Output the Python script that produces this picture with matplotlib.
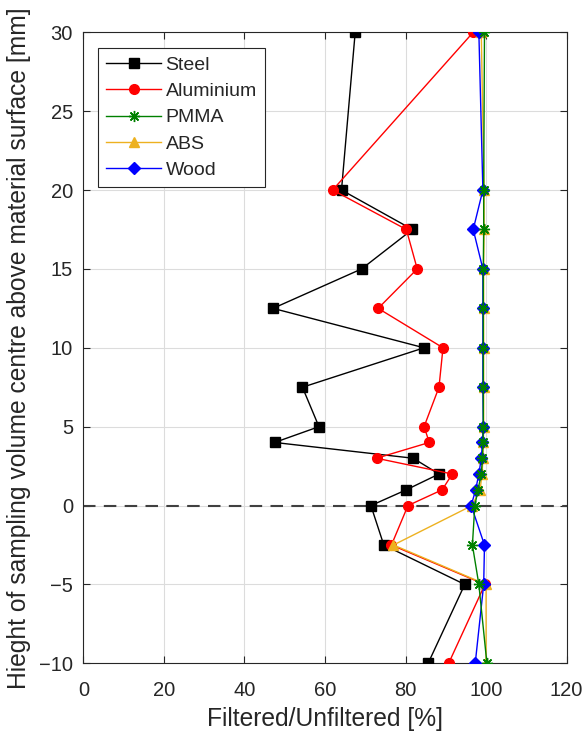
import numpy as np
import matplotlib.pyplot as plt

plt.rcParams['font.family'] = ['Liberation Sans', 'DejaVu Sans']

# heights of the sampling volume centre [mm]
height = [30, 20, 17.5, 15, 12.5, 10, 7.5, 5, 4, 3, 2, 1, 0, -2.5, -5, -10]

# filtered/unfiltered ratio [%] per material
steel = [67.5, 64.1, 81.7, 69.1, 47.1, 84.6, 54.4, 58.5, 47.5, 81.9, 88.3, 80.2, 71.4, 74.6, 94.7, 85.6]
aluminium = [96.8, 61.9, 80.2, 82.9, 73.2, 89.3, 88.3, 84.6, 85.9, 72.8, 91.6, 89.1, 80.6, 76.5, 99.7, 90.7]
pmma = [99.6, 99.4, 99.4, 99.3, 99.3, 99.3, 99.3, 99.3, 99.2, 99.1, 98.8, 98.0, 97.2, 96.6, 98.2, 100.2]
abs_ = [98.8, 99.5, 99.5, 99.4, 99.4, 99.4, 99.4, 99.4, 99.3, 99.2, 99.0, 98.5, 96.5, 77.0, 100.0, 100.0]
wood = [98.2, 99.2, 96.8, 99.2, 99.2, 99.2, 99.2, 99.3, 99.1, 98.8, 98.2, 97.4, 96.3, 99.6, 99.4, 97.3]

fig = plt.figure(figsize=(5.88, 7.4), dpi=100)
ax = fig.add_axes([0.1417, 0.1036, 0.822, 0.8528])

txt = '#262626'
ax.axhline(0, color='#404040', lw=1.5, ls=(0, (6, 4)), zorder=1)

# matlab style asterisk (plus + cross)
asterisk = (8, 2, 0)

l1, = ax.plot(steel, height, '-s', color='k', lw=1, ms=6.5, label='Steel', zorder=3)
l2, = ax.plot(aluminium, height, '-o', color='#ff0000', lw=1, ms=7, label='Aluminium', zorder=3)
l4, = ax.plot(abs_, height, '-^', color='#edb120', lw=1, ms=7, label='ABS', zorder=3)
l5, = ax.plot(wood, height, '-D', color='#0000ff', lw=1, ms=6, label='Wood', zorder=3)
l3, = ax.plot(pmma, height, '-', marker=asterisk, color='#008000', lw=1, ms=8, mew=1,
              label='PMMA', zorder=4)

ax.set_xlim(0, 120)
ax.set_ylim(-10, 30)
ax.set_xticks(np.arange(0, 121, 20))
ax.set_yticks(np.arange(-10, 31, 5))
ax.grid(True, color='#dcdcdc', lw=0.8)
ax.set_axisbelow(True)
ax.tick_params(direction='in', top=True, right=True, labelsize=14.5, colors=txt,
               length=5, width=0.8)
ax.tick_params(axis='x', pad=13)
ax.tick_params(axis='y', pad=7.5)
for s in ax.spines.values():
    s.set_color('#262626')
    s.set_linewidth(0.8)

ax.set_xlabel('Filtered/Unfiltered [%]', fontsize=17.7, color=txt, labelpad=5)
ax.set_ylabel('Hieght of sampling volume centre above material surface [mm]',
              fontsize=17.7, color=txt, labelpad=6)

leg = ax.legend(handles=[l1, l2, l3, l4, l5], loc='upper left', fontsize=14,
                bbox_to_anchor=(0.031, 0.9746), fancybox=False, framealpha=1,
                edgecolor='#262626', handlelength=2.84, handletextpad=0.22,
                borderpad=0.4, labelspacing=0.45, borderaxespad=0)
leg.get_frame().set_linewidth(0.8)
for t in leg.get_texts():
    t.set_color(txt)

fig.savefig('out.png', dpi=100, facecolor='white')
